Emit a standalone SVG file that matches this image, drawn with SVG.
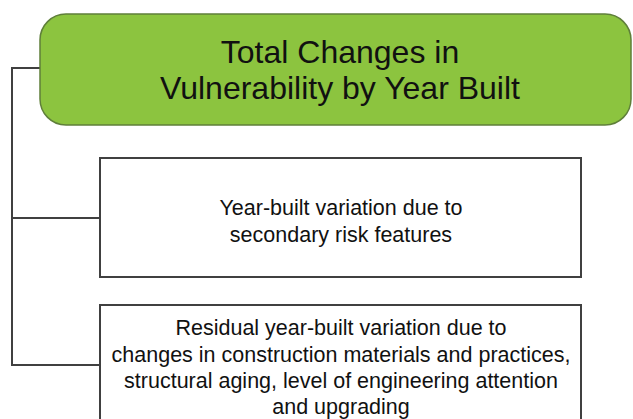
<svg xmlns="http://www.w3.org/2000/svg" width="633" height="419" viewBox="0 0 633 419">
<style>
.t{font-family:"Liberation Sans",Arial,sans-serif;fill:#111;text-anchor:middle}
.box{fill:#fff;stroke:#404040;stroke-width:2}
.ln{fill:none;stroke:#404040;stroke-width:2}
</style>
<rect width="633" height="419" fill="#fff"/>
<g id="connectors">
<path class="ln" d="M40 68H12V365H100"/>
<path class="ln" d="M12 218H100"/>
</g>
<g id="root">
<rect x="40" y="14" width="591" height="111" rx="26" fill="#8cc43f" stroke="#5f7f3a" stroke-width="1.5"/>
<text class="t" x="340" y="63" font-size="32">Total Changes in</text>
<text class="t" x="340" y="99" font-size="32">Vulnerability by Year Built</text>
</g>
<g id="secondary">
<rect class="box" x="100" y="158" width="481" height="119"/>
<text class="t" x="341" y="215" font-size="21.5">Year-built variation due to</text>
<text class="t" x="341" y="242" font-size="21.5">secondary risk features</text>
</g>
<g id="residual">
<rect class="box" x="100" y="305" width="481" height="130"/>
<text class="t" x="341" y="335" font-size="21.5">Residual year-built variation due to</text>
<text class="t" x="341" y="362" font-size="21.5">changes in construction materials and practices,</text>
<text class="t" x="341" y="388" font-size="21.5">structural aging, level of engineering attention</text>
<text class="t" x="341" y="414" font-size="21.5">and upgrading</text>
</g>
</svg>
